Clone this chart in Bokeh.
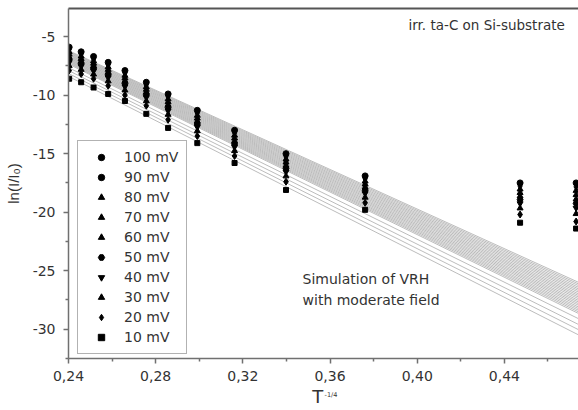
from bokeh.plotting import figure
from bokeh.models import (Range1d, LinearAxis, FixedTicker, CustomJSTickFormatter,
                          Label, Legend, LegendItem)
from bokeh.embed import file_html
from bokeh.resources import INLINE

# ---- data -------------------------------------------------------------
# T^-1/4 positions of the measured columns
x_vals = [0.2403, 0.2458, 0.2515, 0.2582, 0.2659, 0.2757, 0.2857, 0.2991,
          0.3162, 0.3398, 0.3761, 0.4472, 0.4729]

mV100 = [-5.9, -6.3, -6.7, -7.2, -7.9, -8.9, -9.9, -11.3, -13.0, -15.0, -16.9, -17.5, -17.5]
mV90 = [-6.1, -6.49, -6.89, -7.4, -8.11, -9.1, -10.12, -11.52, -13.22, -15.24, -17.13, -17.77, -17.83]
mV80 = [-6.3, -6.68, -7.08, -7.6, -8.32, -9.3, -10.34, -11.74, -13.44, -15.48, -17.36, -18.04, -18.16]
mV70 = [-6.52, -6.89, -7.29, -7.82, -8.55, -9.52, -10.58, -11.98, -13.68, -15.74, -17.61, -18.34, -18.52]
mV60 = [-6.74, -7.1, -7.5, -8.04, -8.78, -9.74, -10.82, -12.22, -13.92, -16.01, -17.87, -18.63, -18.89]
mV50 = [-6.96, -7.31, -7.71, -8.26, -9.01, -9.96, -11.07, -12.47, -14.17, -16.27, -18.12, -18.93, -19.25]
mV40 = [-7.2, -7.54, -7.94, -8.5, -9.27, -10.2, -11.33, -12.73, -14.43, -16.56, -18.4, -19.26, -19.65]
mV30 = [-7.5, -7.82, -8.22, -8.8, -9.58, -10.5, -11.66, -13.06, -14.76, -16.92, -18.74, -19.66, -20.14]
mV20 = [-7.9, -8.2, -8.6, -9.2, -10.0, -10.9, -12.1, -13.5, -15.2, -17.4, -19.2, -20.2, -20.8]
mV10 = [-8.6, -8.9, -9.35, -9.9, -10.5, -11.6, -12.8, -14.1, -15.8, -18.1, -19.8, -20.9, -21.4]

series_labels = ["100 mV", "90 mV", "80 mV", "70 mV", "60 mV",
                 "50 mV", "40 mV", "30 mV", "20 mV", "10 mV"]
series_values = [mV100, mV90, mV80, mV70, mV60, mV50, mV40, mV30, mV20, mV10]

# simulated VRH lines: value at x = sim_x0 and at x = sim_x1
sim_x0 = 0.24
sim_x1 = 0.48
sim_left = [-6.2, -6.26, -6.32, -6.38, -6.44, -6.5, -6.56, -6.62, -6.68, -6.74,
            -6.8, -6.86, -6.92, -6.98, -7.04, -7.1, -7.16, -7.22, -7.28, -7.35,
            -7.65, -7.9, -8.15, -8.4]
sim_right = [-26.5, -26.64, -26.78, -26.93, -27.07, -27.21, -27.35, -27.5, -27.64, -27.78,
             -27.92, -28.07, -28.21, -28.35, -28.49, -28.64, -28.78, -28.92, -29.06, -29.2,
             -29.65, -30.15, -30.6, -31.05]

x_ticks = [0.24, 0.28, 0.32, 0.36, 0.40, 0.44]
x_minor = [0.26, 0.30, 0.34, 0.38, 0.42, 0.46]
y_ticks = [-30, -25, -20, -15, -10, -5]
y_minor = [-32.5, -27.5, -22.5, -17.5, -12.5, -7.5, -2.5]

# ---- figure -----------------------------------------------------------
FONT = "DejaVu Sans"
TXT = "#333333"
AX = "#707070"

p = figure(width=578, height=410, x_range=Range1d(0.24, 0.474), y_range=Range1d(-32.5, -2.6),
           output_backend="svg", toolbar_location=None,
           min_border_left=68, min_border_right=0, min_border_top=8, min_border_bottom=52)
p.grid.visible = False
p.outline_line_color = None
p.background_fill_color = "white"
p.border_fill_color = "white"

xa = p.xaxis[0]
xa.ticker = FixedTicker(ticks=x_ticks, minor_ticks=x_minor)
xa.formatter = CustomJSTickFormatter(code="return tick.toFixed(2).replace('.', ',');")
xa.axis_label = "T\u00a0\u00a0"
xa.axis_label_standoff = 2
xa.axis_label_text_font_size = "18px"
xa.axis_label_text_font = FONT

ya = p.yaxis[0]
ya.ticker = FixedTicker(ticks=y_ticks, minor_ticks=y_minor)
ya.formatter = CustomJSTickFormatter(code="return tick.toFixed(0);")
ya.axis_label = "ln(I/I\u2080)"
ya.axis_label_standoff = 8
ya.axis_label_text_font_size = "15px"
ya.axis_label_text_font = "Liberation Sans"

for ax in (xa, ya):
    ax.axis_label_text_font_style = "normal"
    ax.axis_label_text_color = TXT
    ax.axis_line_color = AX
    ax.axis_line_width = 1.5
    ax.major_tick_line_color = AX
    ax.minor_tick_line_color = AX
    ax.major_tick_line_width = 1.5
    ax.minor_tick_line_width = 1.5
    ax.major_tick_in = 0
    ax.major_tick_out = 5
    ax.minor_tick_in = 0
    ax.minor_tick_out = 3
    ax.major_label_text_font = FONT
    ax.major_label_text_font_size = "14px"
    ax.major_label_text_color = TXT
xa.major_label_standoff = 7
ya.major_label_standoff = 8

top = LinearAxis(ticker=FixedTicker(ticks=[]), axis_line_color="#555555", axis_line_width=2,
                 major_tick_out=0, major_tick_in=0, minor_tick_out=0, minor_tick_in=0,
                 major_label_text_font_size="0px", major_label_standoff=0)
p.add_layout(top, "above")

# superscript of the x-axis title (side panel, so it is not clipped to the frame)
p.add_layout(Label(x=0.3575, y=-35.62, text="-1/4", text_font=FONT,
                   text_font_size="6.5px", text_color=TXT, text_baseline="alphabetic"), "above")

# simulation lines
xs = [[sim_x0, sim_x1] for _ in sim_left]
ys = [[a, b] for a, b in zip(sim_left, sim_right)]
p.multi_line(xs=xs, ys=ys, line_color="#b4b4b4", line_width=0.9)

# data markers
markers = [("circle", 6), ("circle", 4), ("triangle", 6), ("triangle", 6),
           ("triangle", 6), ("hex", 6), ("inverted_triangle", 6),
           ("triangle", 6), ("diamond", 7), ("square", 5)]
items = []
for lab, vals, (mk, sz) in zip(series_labels, series_values, markers):
    r = p.scatter(x=x_vals, y=vals, marker=mk, size=sz,
                  fill_color="black", line_color="black")
    items.append(LegendItem(label=lab, renderers=[r]))

leg = Legend(items=items, location=(9, 4), orientation="vertical",
             label_text_font=FONT, label_text_font_size="14px", label_text_color=TXT,
             glyph_width=30, glyph_height=16, label_height=16, spacing=4,
             padding=8, margin=0, label_standoff=8,
             border_line_color="#666666", border_line_width=1.5,
             background_fill_color="white", background_fill_alpha=1)
p.add_layout(leg, "center")

# texts
p.add_layout(Label(x=0.396, y=-3.97, text="irr. ta-C on Si-substrate", text_font=FONT,
                   text_font_size="13.5px", text_color=TXT, text_baseline="middle"))
p.add_layout(Label(x=0.3474, y=-25.75, text="Simulation of VRH", text_font=FONT,
                   text_font_size="14px", text_color=TXT, text_baseline="middle"))
p.add_layout(Label(x=0.3474, y=-27.46, text="with moderate field", text_font=FONT,
                   text_font_size="14px", text_color=TXT, text_baseline="middle"))

open("out.html", "w").write(file_html(p, INLINE))
